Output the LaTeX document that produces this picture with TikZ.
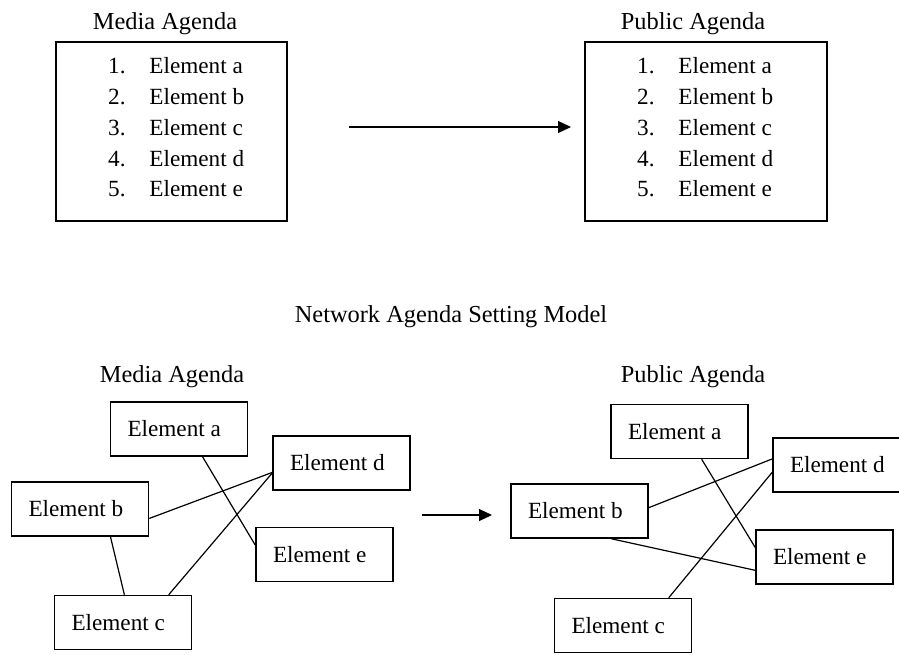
\documentclass[tikz,border=0pt]{standalone}
\usepackage{fontspec}
\setmainfont{Liberation Serif}
\usetikzlibrary{arrows.meta,positioning,calc}

\tikzset{
    agendabox/.style={draw, line width=0.75pt, minimum width=#1, minimum height=89.5pt},
    elembox/.style={draw, line width=0.75pt, minimum height=27pt, text width=51.5pt,
        inner xsep=8.5pt, align=flush left, font=\fontsize{11.6}{14}\selectfont},
    title/.style={anchor=base, font=\fontsize{12.2}{14}\selectfont},
    item/.style={inner sep=0pt, font=\fontsize{11.6}{14}\selectfont},
    link/.style={line width=0.6pt},
    flow/.style={line width=0.6pt, -{Triangle[length=6.5pt, width=6pt]}}
}

\begin{document}
\begin{tikzpicture}[x=0.5pt, y=-0.5pt]
    \clip (0,0) rectangle (899,654);

    % Ranked agendas
    \node[title] (mtitle) at (165, 29) {Media Agenda};
    \node[title] (ptitle) at (693, 29) {Public Agenda};
    \node[agendabox=115.5pt] (mbox) at (171.5, 131.5) {};
    \node[agendabox=121pt] (pbox) at (706, 131.5) {};
    \foreach \i/\l/\y in {1/a/73, 2/b/104, 3/c/135, 4/d/166, 5/e/196} {
        \node[item, anchor=base east] (mn\i) at (126, \y) {\i.};
        \node[item, anchor=base west] (me\i) at (149, \y) {Element \l};
        \node[item, anchor=base east] (pn\i) at (655, \y) {\i.};
        \node[item, anchor=base west] (pe\i) at (678, \y) {Element \l};
    }
    \coordinate (t1) at (349, 127);
    \coordinate (t2) at (571, 127);
    \draw[flow] (t1) -- (t2);

    \node[title] (ntitle) at (451, 322) {Network Agenda Setting Model};

    % Media network
    \node[title] (lmtitle) at (172, 382) {Media Agenda};
    \node[elembox] (la) at (179, 429) {Element a};
    \node[elembox] (ld) at (341.5, 463) {Element d};
    \node[elembox] (lb) at (80, 509) {Element b};
    \node[elembox] (le) at (324.5, 554.5) {Element e};
    \node[elembox] (lc) at (123, 622.5) {Element c};
    \draw[link] ($(la.south west)!.67!(la.south east)$) -- ($(le.north west)!.33!(le.south west)$);
    \draw[link] ($(lb.north east)!.67!(lb.south east)$) -- ($(ld.north west)!.67!(ld.south west)$);
    \draw[link] ($(lc.north west)!.83!(lc.north east)$) -- ($(ld.north west)!.68!(ld.south west)$);
    \draw[link] ($(lb.south west)!.72!(lb.south east)$) -- ($(lc.north west)!.51!(lc.north east)$);

    \coordinate (b1) at (422, 515);
    \coordinate (b2) at (492, 515);
    \draw[flow] (b1) -- (b2);

    % Public network
    \node[title] (rptitle) at (693, 382) {Public Agenda};
    \node[elembox] (ra) at (679.5, 431.5) {Element a};
    \node[elembox] (rd) at (841.5, 465) {Element d};
    \node[elembox] (rb) at (579.5, 511) {Element b};
    \node[elembox] (re) at (824.5, 557) {Element e};
    \node[elembox] (rc) at (623, 625.5) {Element c};
    \draw[link] ($(ra.south west)!.66!(ra.south east)$) -- ($(re.north west)!.33!(re.south west)$);
    \draw[link] ($(rb.north east)!.44!(rb.south east)$) -- ($(rd.north west)!.39!(rd.south west)$);
    \draw[link] ($(rb.south west)!.73!(rb.south east)$) -- ($(re.north west)!.74!(re.south west)$);
    \draw[link] ($(rc.north west)!.83!(rc.north east)$) -- ($(rd.north west)!.63!(rd.south west)$);
\end{tikzpicture}
\end{document}
